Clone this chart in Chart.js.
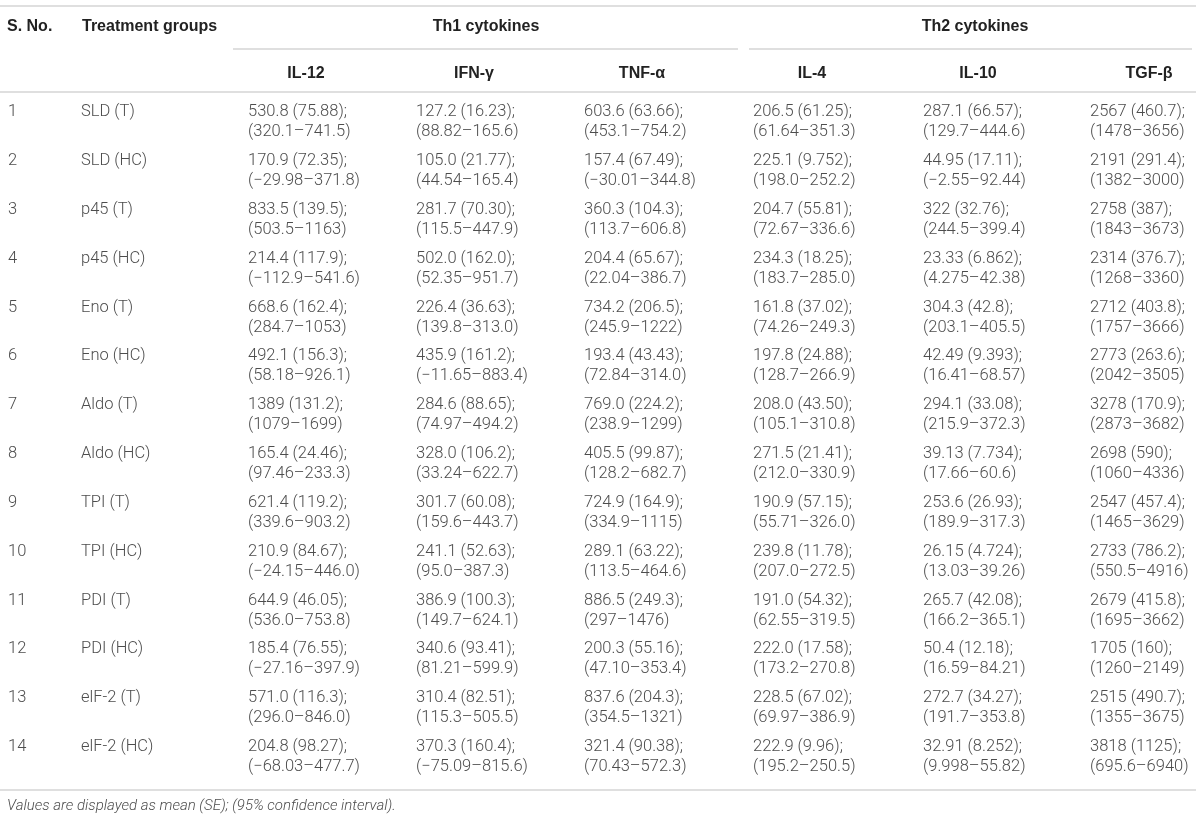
<!DOCTYPE html>
<html>
<head>
<meta charset="utf-8">
<script src="https://cdn.jsdelivr.net/npm/chart.js@4.4.1/dist/chart.umd.min.js"></script>
<style>
  html, body { margin: 0; padding: 0; background: #fff; }
  #wrap { width: 1200px; height: 821px; position: relative; }
</style>
</head>
<body>
<div id="wrap"><canvas id="myChart"></canvas></div>
<script>
// table data
const groups = ["SLD (T)", "SLD (HC)", "p45 (T)", "p45 (HC)", "Eno (T)", "Eno (HC)", "Aldo (T)",
  "Aldo (HC)", "TPI (T)", "TPI (HC)", "PDI (T)", "PDI (HC)", "elF-2 (T)", "elF-2 (HC)"];
const cytokines = ["IL-12", "IFN-γ", "TNF-α", "IL-4", "IL-10", "TGF-β"];
const th1 = "Th1 cytokines";
const th2 = "Th2 cytokines";
const note = "Values are displayed as mean (SE); (95% confidence interval).";

// mean (SE)
const il12 = ["530.8 (75.88)", "170.9 (72.35)", "833.5 (139.5)", "214.4 (117.9)", "668.6 (162.4)", "492.1 (156.3)", "1389 (131.2)",
  "165.4 (24.46)", "621.4 (119.2)", "210.9 (84.67)", "644.9 (46.05)", "185.4 (76.55)", "571.0 (116.3)", "204.8 (98.27)"];
const ifng = ["127.2 (16.23)", "105.0 (21.77)", "281.7 (70.30)", "502.0 (162.0)", "226.4 (36.63)", "435.9 (161.2)", "284.6 (88.65)",
  "328.0 (106.2)", "301.7 (60.08)", "241.1 (52.63)", "386.9 (100.3)", "340.6 (93.41)", "310.4 (82.51)", "370.3 (160.4)"];
const tnfa = ["603.6 (63.66)", "157.4 (67.49)", "360.3 (104.3)", "204.4 (65.67)", "734.2 (206.5)", "193.4 (43.43)", "769.0 (224.2)",
  "405.5 (99.87)", "724.9 (164.9)", "289.1 (63.22)", "886.5 (249.3)", "200.3 (55.16)", "837.6 (204.3)", "321.4 (90.38)"];
const il4 = ["206.5 (61.25)", "225.1 (9.752)", "204.7 (55.81)", "234.3 (18.25)", "161.8 (37.02)", "197.8 (24.88)", "208.0 (43.50)",
  "271.5 (21.41)", "190.9 (57.15)", "239.8 (11.78)", "191.0 (54.32)", "222.0 (17.58)", "228.5 (67.02)", "222.9 (9.96)"];
const il10 = ["287.1 (66.57)", "44.95 (17.11)", "322 (32.76)", "23.33 (6.862)", "304.3 (42.8)", "42.49 (9.393)", "294.1 (33.08)",
  "39.13 (7.734)", "253.6 (26.93)", "26.15 (4.724)", "265.7 (42.08)", "50.4 (12.18)", "272.7 (34.27)", "32.91 (8.252)"];
const tgfb = ["2567 (460.7)", "2191 (291.4)", "2758 (387)", "2314 (376.7)", "2712 (403.8)", "2773 (263.6)", "3278 (170.9)",
  "2698 (590)", "2547 (457.4)", "2733 (786.2)", "2679 (415.8)", "1705 (160)", "2515 (490.7)", "3818 (1125)"];

// 95% confidence intervals
const il12CI = ["320.1–741.5", "−29.98–371.8", "503.5–1163", "−112.9–541.6", "284.7–1053", "58.18–926.1", "1079–1699",
  "97.46–233.3", "339.6–903.2", "−24.15–446.0", "536.0–753.8", "−27.16–397.9", "296.0–846.0", "−68.03–477.7"];
const ifngCI = ["88.82–165.6", "44.54–165.4", "115.5–447.9", "52.35–951.7", "139.8–313.0", "−11.65–883.4", "74.97–494.2",
  "33.24–622.7", "159.6–443.7", "95.0–387.3", "149.7–624.1", "81.21–599.9", "115.3–505.5", "−75.09–815.6"];
const tnfaCI = ["453.1–754.2", "−30.01–344.8", "113.7–606.8", "22.04–386.7", "245.9–1222", "72.84–314.0", "238.9–1299",
  "128.2–682.7", "334.9–1115", "113.5–464.6", "297–1476", "47.10–353.4", "354.5–1321", "70.43–572.3"];
const il4CI = ["61.64–351.3", "198.0–252.2", "72.67–336.6", "183.7–285.0", "74.26–249.3", "128.7–266.9", "105.1–310.8",
  "212.0–330.9", "55.71–326.0", "207.0–272.5", "62.55–319.5", "173.2–270.8", "69.97–386.9", "195.2–250.5"];
const il10CI = ["129.7–444.6", "−2.55–92.44", "244.5–399.4", "4.275–42.38", "203.1–405.5", "16.41–68.57", "215.9–372.3",
  "17.66–60.6", "189.9–317.3", "13.03–39.26", "166.2–365.1", "16.59–84.21", "191.7–353.8", "9.998–55.82"];
const tgfbCI = ["1478–3656", "1382–3000", "1843–3673", "1268–3360", "1757–3666", "2042–3505", "2873–3682",
  "1060–4336", "1465–3629", "550.5–4916", "1695–3662", "1260–2149", "1355–3675", "695.6–6940"];

// layout (x in px, y in row units)
const colLeft = [248, 416, 584, 753, 923, 1090];
const headCenter = [306, 474, 642, 812, 978, 1149];
const BODY = "300 16.5px Roboto";
const HEAD = "bold 16px 'Liberation Sans'";
const RULE = "#d4d4d4";
const INK = "#4d4d4d";

const means = [il12, ifng, tnfa, il4, il10, tgfb];
const cis = [il12CI, ifngCI, tnfaCI, il4CI, il10CI, tgfbCI];
const rows = groups.map((g, i) => i + 1);

function textSet(points, cells, font, color, align) {
  return { type: "scatter", data: points, cells: cells, font: font, color: color, align: align,
    pointRadius: 0, pointHoverRadius: 0 };
}
function rule(x1, x2, y) {
  return { type: "line", data: [{ x: x1, y: y }, { x: x2, y: y }], borderColor: RULE, borderWidth: 1.5,
    pointRadius: 0, fill: false };
}

const datasets = [
  rule(0, 1196, -1.375),
  rule(233, 738, -0.494),
  rule(749, 1192, -0.494),
  rule(0, 1196, 0.386),
  rule(0, 1196, 14.675),
  textSet([{ x: 7, y: -0.945 }, { x: 82, y: -0.945 }], [["S. No."], ["Treatment groups"]], HEAD, "#222", "left"),
  textSet([{ x: 486, y: -0.945 }, { x: 975, y: -0.945 }], [[th1], [th2]], HEAD, "#222", "center"),
  textSet(cytokines.map((c, j) => ({ x: headCenter[j], y: 0 })), cytokines.map(c => [c]), HEAD, "#222", "center"),
  textSet(rows.map(r => ({ x: 8, y: r })), rows.map(r => [String(r), ""]), BODY, INK, "left"),
  textSet(rows.map(r => ({ x: 81, y: r })), groups.map(g => [g, ""]), BODY, INK, "left"),
  textSet([{ x: 7, y: 15.0 }], [[note]], "italic 300 15px Roboto", INK, "left")
];
means.forEach((m, j) => {
  datasets.push(textSet(rows.map(r => ({ x: colLeft[j], y: r })),
    m.map((v, i) => [v + ";", "(" + cis[j][i] + ")"]), BODY, INK, "left"));
});

const tableText = {
  id: "tableText",
  afterDatasetsDraw(chart) {
    const ctx = chart.ctx;
    chart.data.datasets.forEach((ds, di) => {
      if (!ds.cells) return;
      const meta = chart.getDatasetMeta(di);
      ctx.save();
      ctx.font = ds.font;
      ctx.fillStyle = ds.color;
      ctx.textAlign = ds.align;
      ctx.textBaseline = "middle";
      meta.data.forEach((pt, i) => {
        const lines = ds.cells[i];
        const gap = 20;
        const top = pt.y - (lines.length - 1) * gap / 2;
        lines.forEach((t, k) => ctx.fillText(t, pt.x, top + k * gap));
      });
      ctx.restore();
    });
  }
};

var ctx = document.getElementById("myChart").getContext("2d");
var myChart = new Chart(ctx, {
  type: "scatter",
  data: { datasets: datasets },
  options: {
    responsive: true,
    maintainAspectRatio: false,
    animation: false,
    events: [],
    layout: { padding: 0 },
    plugins: { legend: { display: false }, tooltip: { enabled: false } },
    scales: {
      x: { type: "linear", min: 0, max: 1200, display: false },
      y: { type: "linear", min: -1.4975, max: 15.3096, reverse: true, display: false }
    }
  },
  plugins: [tableText]
});
</script>
</body>
</html>
